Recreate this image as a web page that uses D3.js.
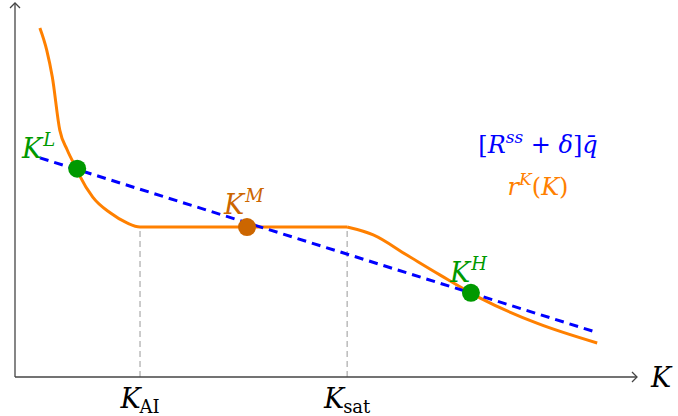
<!DOCTYPE html>
<html lang="en">
<head>
<meta charset="utf-8">
<title>Capital return diagram</title>
<script src="https://d3js.org/d3.v7.min.js"></script>
<style>
body { margin: 0; background: #fff; }
</style>
</head>
<body>
<div id="chart"></div>
<script>
// data, in axis units (0..10 on both axes)
var rKx = [0.40, 0.51, 0.60, 0.72, 0.84, 1.00, 1.05, 1.25, 1.53, 1.80, 2.01, 5.34, 5.76, 6.30, 6.83, 7.48, 8.39, 9.36];
var rKy = [9.33, 8.74, 8.02, 6.60, 6.07, 5.53, 5.35, 4.81, 4.39, 4.12, 4.01, 4.01, 3.80, 3.26, 2.73, 2.11, 1.44, 0.91];
var costX = [0.40, 9.34];
var costY = [5.86, 1.20];
var eqNames = ["L", "M", "H"];
var eqX = [1.00, 3.73, 7.33];
var eqY = [5.57, 4.01, 2.25];
var tickNames = ["AI", "sat"];
var tickX = [2.01, 5.34];
var tickTop = 4.01;

var width = 678, height = 416;
var GREEN = "#009900", ORANGE = "#ff8000", DARKOR = "#cc6600", BLUE = "#0000ff";

var svg = d3.select("#chart").append("svg")
    .attr("width", width)
    .attr("height", height)
    .attr("font-family", "DejaVu Serif");

var x = d3.scaleLinear().domain([0, 10]).range([15, 637]);
var y = d3.scaleLinear().domain([0, 10]).range([377, 3]);

// dashed guides at K_AI and K_sat
svg.selectAll(".guide").data(tickX).enter().append("line")
    .attr("x1", d => x(d)).attr("x2", d => x(d))
    .attr("y1", y(0)).attr("y2", y(tickTop))
    .attr("stroke", "#aaa").attr("stroke-width", 1.2)
    .attr("stroke-dasharray", "6,4");

// axes
var ax = svg.append("g").attr("stroke", "#444").attr("stroke-width", 1.3).attr("fill", "none");
ax.append("line").attr("x1", x(0)).attr("y1", y(0)).attr("x2", x(10)).attr("y2", y(0));
ax.append("line").attr("x1", x(0)).attr("y1", y(0)).attr("x2", x(0)).attr("y2", y(10));
ax.append("path").attr("d", "M" + (x(10) - 5) + "," + (y(0) - 5) + " L" + x(10) + "," + y(0) + " L" + (x(10) - 5) + "," + (y(0) + 5));
ax.append("path").attr("d", "M" + (x(0) - 5) + "," + (y(10) + 5) + " L" + x(0) + "," + y(10) + " L" + (x(0) + 5) + "," + (y(10) + 5));

// r^K(K) curve, kinked at K_sat
var rK = rKx.map((v, i) => [v, rKy[i]]);
var rKline = d3.line().x(d => x(d[0])).y(d => y(d[1])).curve(d3.curveMonotoneX);
var pieces = [rK.filter(d => d[0] <= tickX[1]), rK.filter(d => d[0] >= tickX[1])];
svg.selectAll(".rk").data(pieces).enter().append("path")
    .attr("d", rKline)
    .attr("fill", "none").attr("stroke", ORANGE).attr("stroke-width", 3)
    .attr("stroke-linejoin", "round");

// cost line
var cost = costX.map((v, i) => [v, costY[i]]);
svg.append("path").datum(cost)
    .attr("d", d3.line().x(d => x(d[0])).y(d => y(d[1])))
    .attr("fill", "none").attr("stroke", BLUE).attr("stroke-width", 3)
    .attr("stroke-dasharray", "9,6");

// equilibrium dots
svg.selectAll(".eq").data(eqX).enter().append("circle")
    .attr("cx", d => x(d)).attr("cy", (d, i) => y(eqY[i]))
    .attr("r", 9)
    .attr("fill", (d, i) => eqNames[i] === "M" ? DARKOR : GREEN);

// K with a superscript or subscript
function kLabel(px, py, script, up, color, anchor, italicScript) {
    var t = svg.append("text").attr("x", px).attr("y", py)
        .attr("fill", color).attr("font-size", 27).attr("text-anchor", anchor || "start");
    t.append("tspan").attr("font-style", "italic").text("K");
    t.append("tspan").attr("font-size", 18)
        .attr("font-style", italicScript ? "italic" : "normal")
        .attr("dx", up ? 1 : -1)
        .attr("dy", up ? -12 : 5).text(script);
    return t;
}

var eqLabelPos = [[22, 158], [224, 214], [450, 282]];
eqNames.forEach(function (n, i) {
    kLabel(eqLabelPos[i][0], eqLabelPos[i][1], n, true, n === "M" ? DARKOR : GREEN, "start", true);
});

tickNames.forEach(function (n, i) {
    kLabel(x(tickX[i]), 408, n, false, "#000", "middle", false);
});

svg.append("text").attr("x", 651).attr("y", 387)
    .attr("font-size", 27).attr("font-style", "italic").text("K");

// legend
var l1 = svg.append("text").attr("x", 538).attr("y", 153)
    .attr("fill", BLUE).attr("font-size", 24).attr("text-anchor", "middle");
l1.append("tspan").text("[");
l1.append("tspan").attr("font-style", "italic").text("R");
l1.append("tspan").attr("font-size", 17).attr("font-style", "italic").attr("dy", -10).text("ss");
l1.append("tspan").attr("dy", 10).text(" + ");
l1.append("tspan").attr("font-style", "italic").text("\u03b4");
l1.append("tspan").text("]");
l1.append("tspan").attr("font-style", "italic").text("q\u0304");

var l2 = svg.append("text").attr("x", 538).attr("y", 195)
    .attr("fill", ORANGE).attr("font-size", 24).attr("text-anchor", "middle");
l2.append("tspan").attr("font-style", "italic").text("r");
l2.append("tspan").attr("font-size", 17).attr("font-style", "italic").attr("dy", -10).text("K");
l2.append("tspan").attr("dy", 10).text("(");
l2.append("tspan").attr("font-style", "italic").text("K");
l2.append("tspan").text(")");
</script>
</body>
</html>
